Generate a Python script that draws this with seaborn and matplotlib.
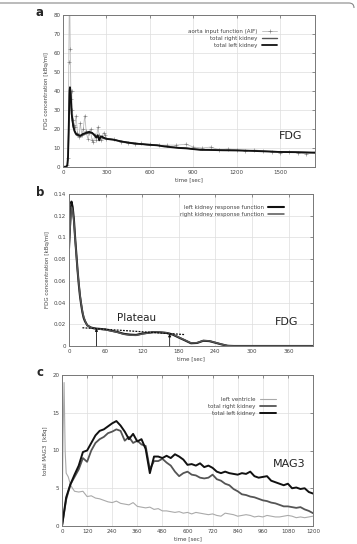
import matplotlib
matplotlib.use('Agg')
import matplotlib.pyplot as plt
import numpy as np
import pandas as pd
import seaborn as sns
from matplotlib.path import Path
from matplotlib.patches import PathPatch

# ---- panel a: FDG, aorta input function and total kidneys ----
aif_t = [0, 10, 20, 30, 35, 40, 45, 50, 55, 60, 65, 70, 75, 80,
         90, 100, 110, 120, 130, 140, 150, 160, 170, 180, 190, 200, 210, 220, 230, 240,
         250, 260, 270, 280, 290, 300, 350, 400, 450, 500, 540,
         600, 660, 720, 780, 850, 900, 960, 1020, 1080, 1140, 1200,
         1260, 1320, 1380, 1440, 1500, 1560, 1620, 1680, 1740]
aif = [0, 0, 0, 1, 5, 55, 100, 62, 36, 40, 30, 25, 22, 21,
       27, 18, 16, 23, 17, 20, 27, 19, 15, 18, 20, 14, 13, 17, 14, 21,
       17, 14, 16, 18, 17, 15, 14.5, 13, 12.5, 12, 12.5,
       12, 11.5, 11.5, 11.5, 12, 10.5, 10, 10.5, 9, 9.5, 9,
       8.5, 9, 8.5, 8, 7.5, 8, 7.5, 7, 8]
kid_t = [0, 20, 30, 35, 40, 45, 48, 52, 56, 60, 70, 80, 90, 100, 120, 140, 160, 180, 200, 220,
         230, 240, 250, 260, 270, 280, 300, 350, 400, 450, 500, 550, 600, 650, 700, 750, 800,
         850, 900, 950, 1000, 1100, 1200, 1300, 1400, 1500, 1600, 1740]
kid_right = [0, 0, 1, 5, 20, 38, 41, 39, 33, 27, 21, 18.5, 17, 16.5, 16, 17, 17.5, 18, 18, 17,
             16, 17, 14.5, 16, 15.5, 15, 15, 14.5, 13.5, 13, 12.5, 12, 11.5, 11.5, 11, 10.5, 10.2,
             10, 9.5, 9.2, 9, 8.9, 8.8, 8.6, 8.3, 8, 7.9, 7.6]
kid_left = [0, 0, 1, 6, 22, 40, 42, 40, 34, 28, 22, 19, 17.5, 17, 16.5, 17.5, 18, 18.5, 18, 16.5,
            15.5, 16.5, 14, 16, 16, 15.5, 14.8, 14.3, 13.5, 12.8, 12.3, 12, 11.7, 11.4, 10.8, 10.4, 10,
            9.8, 9.4, 9, 9, 8.8, 8.7, 8.5, 8.2, 7.9, 7.8, 7.5]

# ---- panel b: kidney response functions ----
resp_t = [0, 2, 4, 6, 8, 10, 12, 14, 16, 18, 20, 22, 24, 26, 28, 30, 33, 36, 40, 45, 50,
          60, 70, 80, 90, 100, 110, 120, 130, 140, 150, 160, 170, 180, 190, 200, 210, 220,
          230, 240, 250, 260, 270, 300, 340, 400]
resp_left = [0.09, 0.115, 0.133, 0.128, 0.117, 0.1, 0.085, 0.07, 0.057, 0.046, 0.038, 0.031,
             0.026, 0.023, 0.021, 0.019, 0.018, 0.017, 0.0165, 0.016, 0.0158,
             0.0152, 0.014, 0.0128, 0.0112, 0.0105, 0.0102, 0.0115, 0.0122, 0.0128, 0.0125,
             0.012, 0.0105, 0.0078, 0.0052, 0.0025, 0.0028, 0.0048, 0.0045, 0.003, 0.0015,
             0.0002, 0, 0, 0, 0]
resp_right = [0.09, 0.11, 0.128, 0.125, 0.115, 0.099, 0.084, 0.07, 0.058, 0.047, 0.039, 0.032,
              0.027, 0.024, 0.021, 0.019, 0.0178, 0.017, 0.0162, 0.0158, 0.0155,
              0.015, 0.0138, 0.0125, 0.0108, 0.01, 0.0098, 0.011, 0.012, 0.013, 0.0128,
              0.0122, 0.011, 0.008, 0.0055, 0.0028, 0.003, 0.005, 0.0047, 0.0032, 0.0016,
              0.0003, 0, 0, 0, 0]
plateau_t = [22, 190]
plateau_y = [0.0168, 0.0105]
arrow_t = [45, 165]
arrow_y = [0.0163, 0.0112]

# ---- panel c: MAG3 ----
lv_t = [0, 5, 10, 15, 20, 30, 40, 50, 60] + list(range(80, 1201, 20))
lv = [0, 12, 19, 10, 7, 6.5, 5.5, 5, 4.6,
      4.5, 4.6, 3.9, 4.0, 3.7, 3.6, 3.4, 3.2, 3.1, 3.3,
      3.0, 2.9, 2.8, 3.1, 2.6, 2.5, 2.4, 2.5, 2.2, 2.3,
      2.0, 2.0, 1.9, 1.8, 1.9, 1.7, 1.8, 1.6, 1.8, 1.7,
      1.6, 1.5, 1.6, 1.4, 1.3, 1.7, 1.6, 1.5, 1.3, 1.4,
      1.5, 1.4, 1.2, 1.3, 1.2, 1.4, 1.3, 1.2, 1.2, 1.3,
      1.4, 1.3, 1.1, 1.2, 1.1, 1.2, 1.3]
mag_t = list(range(0, 1201, 20))
mag_right = [0, 3.5, 5.5, 6.5, 7.5, 9.0, 8.5, 10.0, 11.0, 11.5,
             11.8, 12.3, 12.5, 12.8, 12.6, 11.3, 11.8, 11.0, 11.3, 10.8,
             10.6, 7.5, 8.6, 8.6, 8.9, 8.4, 8.0, 7.2, 6.6, 7.0,
             7.2, 6.8, 6.7, 6.4, 6.3, 6.4, 6.8, 6.2, 6.0, 5.6,
             5.4, 4.9, 4.6, 4.2, 4.1, 3.9, 3.8, 3.6, 3.4, 3.3,
             3.1, 3.0, 2.8, 2.6, 2.6, 2.5, 2.4, 2.5, 2.2, 2.0, 1.7]
mag_left = [0, 3.8, 5.5, 6.8, 8.0, 9.8, 10.0, 11.0, 12.0, 12.6,
            12.8, 13.2, 13.6, 13.9, 13.3, 12.5, 11.5, 12.2, 11.2, 11.5,
            10.2, 7.0, 9.2, 9.2, 9.0, 9.3, 9.0, 9.5, 9.2, 8.8,
            8.1, 8.2, 8.0, 8.3, 7.8, 8.0, 7.7, 7.2, 7.0, 7.2,
            7.0, 6.9, 6.8, 7.0, 6.9, 7.2, 6.6, 6.4, 6.5, 6.6,
            6.0, 5.8, 5.6, 5.4, 5.6, 5.0, 5.1, 4.9, 5.0, 4.5, 4.3]

sns.set_theme(style='whitegrid')
plt.rcParams['font.family'] = ['DejaVu Sans']
W, H = 357, 544
fig = plt.figure(figsize=(W / 100, H / 100), dpi=100)

tick_fs = 4
def px_axes(l, t, r, b):
    return fig.add_axes([l / W, 1 - b / H, (r - l) / W, (b - t) / H])

def style(ax, xlabel, ylabel):
    ax.set_xlabel(xlabel, fontsize=tick_fs, color='#444', labelpad=1.5)
    ax.set_ylabel(ylabel, fontsize=tick_fs, color='#444', labelpad=3)
    ax.tick_params(labelsize=tick_fs, colors='#444', length=2, width=0.4, direction='in',
                   pad=2, top=True, right=True)
    ax.grid(True, color='#dddddd', lw=0.5)
    for s in ax.spines.values():
        s.set_color('#777777')
        s.set_linewidth(0.7)
    ax.set_facecolor('white')

def legend(ax, x, y):
    ax.legend(loc='upper right', bbox_to_anchor=(x, y), frameon=False, fontsize=tick_fs,
              markerfirst=False, handlelength=2.8, labelspacing=0.35, borderaxespad=0,
              handletextpad=0.8, labelcolor='#444')

# panel a
ax = px_axes(63, 15, 315, 167)
dfa = pd.DataFrame({'t': aif_t, 'v': aif})
sns.lineplot(data=dfa, x='t', y='v', ax=ax, color='#bbbbbb', lw=0.6, marker='+', ms=2.5,
             mec='#777777', mew=0.4, label='aorta input function (AIF)')
dfk = pd.DataFrame({'t': kid_t, 'r': kid_right, 'l': kid_left})
sns.lineplot(data=dfk, x='t', y='r', ax=ax, color='#555555', lw=1.0, label='total right kidney')
sns.lineplot(data=dfk, x='t', y='l', ax=ax, color='#111111', lw=1.3, label='total left kidney')
ax.set_xlim(0, 1740)
ax.set_ylim(0, 80)
ax.set_xticks(range(0, 1501, 300))
ax.set_yticks(range(0, 81, 10))
style(ax, 'time [sec]', 'FDG concentration [kBq/ml]')
legend(ax, 0.86, 0.92)
ax.text(1575, 16.5, 'FDG', fontsize=8, ha='center', va='center', color='#222')

# panel b
ax = px_axes(69, 194, 313, 346)
dfb = pd.DataFrame({'t': resp_t, 'l': resp_left, 'r': resp_right})
sns.lineplot(data=dfb, x='t', y='l', ax=ax, color='#111111', lw=1.5, label='left kidney response function')
sns.lineplot(data=dfb, x='t', y='r', ax=ax, color='#555555', lw=1.1, label='right kidney response function')
ax.plot(plateau_t, plateau_y, color='#111111', lw=0.9, ls=(0, (1.5, 1)))
for xt, yt in zip(arrow_t, arrow_y):
    ax.annotate('', xy=(xt, yt), xytext=(xt, 0),
                arrowprops=dict(arrowstyle='-|>', color='#111111', lw=0.6, mutation_scale=4,
                                shrinkA=0, shrinkB=0))
ax.set_xlim(0, 400)
ax.set_ylim(0, 0.14)
ax.set_xticks(range(0, 361, 60))
ax.set_yticks([0, 0.02, 0.04, 0.06, 0.08, 0.1, 0.12, 0.14])
ax.set_yticklabels(['0', '0.02', '0.04', '0.06', '0.08', '0.1', '0.12', '0.14'])
style(ax, 'time [sec]', 'FDG concentration [kBq/ml]')
legend(ax, 0.89, 0.94)
ax.text(110, 0.0255, 'Plateau', fontsize=7.5, ha='center', va='center', color='#222')
ax.text(357, 0.0218, 'FDG', fontsize=8, ha='center', va='center', color='#222')

# panel c
ax = px_axes(62, 375, 313, 526)
dfl = pd.DataFrame({'t': lv_t, 'v': lv})
sns.lineplot(data=dfl, x='t', y='v', ax=ax, color='#aaaaaa', lw=0.8, label='left ventricle')
dfm = pd.DataFrame({'t': mag_t, 'r': mag_right, 'l': mag_left})
sns.lineplot(data=dfm, x='t', y='r', ax=ax, color='#555555', lw=1.3, label='total right kidney')
sns.lineplot(data=dfm, x='t', y='l', ax=ax, color='#111111', lw=1.4, label='total left kidney')
ax.set_xlim(0, 1200)
ax.set_ylim(0, 20)
ax.set_xticks(range(0, 1201, 120))
ax.set_yticks(range(0, 21, 5))
style(ax, 'time [sec]', 'total MAG3  [kBq]')
legend(ax, 0.86, 0.87)
ax.text(1086, 8.25, 'MAG3', fontsize=8, ha='center', va='center', color='#222')

# panel letters
for lab, y in [('a', 13), ('b', 192), ('c', 373)]:
    fig.text(40 / W, 1 - y / H, lab, fontsize=8.5, fontweight='bold', ha='center', va='center')

# thin rounded frame edge at the top
verts = [(0, 3), (349, 3), (354, 3), (354, 8)]
codes = [Path.MOVETO, Path.LINETO, Path.CURVE3, Path.CURVE3]
verts = [(x / W, 1 - y / H) for x, y in verts]
fig.add_artist(PathPatch(Path(verts, codes), fill=False, ec='#888888', lw=0.8,
                         transform=fig.transFigure))

fig.savefig('out.png', dpi=100)
